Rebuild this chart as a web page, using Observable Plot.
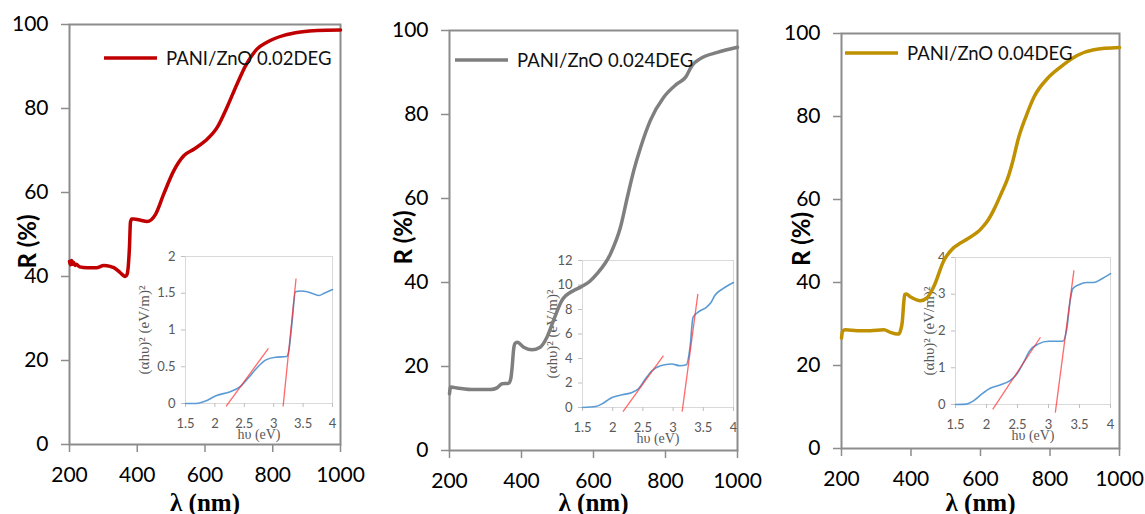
<!DOCTYPE html>
<html><head><meta charset="utf-8">
<script src="https://cdn.jsdelivr.net/npm/d3@7"></script>
<script src="https://cdn.jsdelivr.net/npm/@observablehq/plot@0.6"></script>
<style>
body{margin:0;background:#fff;}
#root{position:relative;width:1145px;height:514px;overflow:hidden;background:#fff;}
.layer{position:absolute;}
.legend{position:absolute;display:flex;align-items:center;font-family:Lato,sans-serif;font-size:18.5px;color:#111;white-space:nowrap;}
.legend svg{margin-right:9px;}
.serif{font-family:"Liberation Serif","Times New Roman",serif !important;}
</style></head><body><div id="root"></div><script>
// ---------- Data ----------
const mainXTicks = [200, 400, 600, 800, 1000];
const mainYTicks = [0, 20, 40, 60, 80, 100];
const insetXTicks = [1.5, 2, 2.5, 3, 3.5, 4];

const names = ["PANI/ZnO 0.02DEG", "PANI/ZnO 0.024DEG", "PANI/ZnO 0.04DEG"];
const colors = ["#C00000", "#7F7F7F", "#BF9000"];

// Panel 1: wavelength (nm) / reflectance (%)
const wl1 = [200,203,206,209,212,216,220,230,252,280,301,320,331,350,358,365,370,373,377,380,384,390,410,429,454,478,508,538,567,601,636,665,695,720,754,783,833,882,931,1000];
const r1  = [43.6,42.8,43.8,42.9,43.4,42.6,42.9,42.3,42.1,42.1,42.6,42.4,42.1,40.9,40.3,40,40.5,42,47,53,53.7,53.7,53.4,53.1,54.8,59.6,65.2,68.8,70.3,72.3,75.5,80.3,85.9,90.2,94.2,95.8,97.4,98.2,98.6,98.7];
// Panel 2
const wl2 = [200,203,212,221,267,314,332,346,364,370,374,378,382,388,406,429,452,471,489,512,545,564,590,610,647,675,694,712,731,758,795,832,856,874,897,944,1000];
const r2  = [13.5,15.1,15.0,14.9,14.5,14.5,14.9,15.9,16,17,19.8,24,25.5,25.8,24.6,24,24.6,27,31,35.7,38.1,38.9,40.3,42.1,46.8,53.2,60.3,66.7,72.2,78.6,84.1,87.3,88.9,91.7,93.3,94.8,96];
// Panel 3
const wl3 = [200,203,211,245,283,322,341,360,365,370,375,379,382,386,399,427,446,466,494,523,542,562,600,620,640,660,680,691,710,730,754,792,830,878,926,1000];
const r3  = [26.6,28.2,28.6,28.4,28.4,28.6,28,27.6,27.6,28.5,30.6,35,37.1,37.2,36.5,35.6,36.3,39.1,45.2,48.4,49.5,50.5,52.8,54.8,57.8,61.5,65.5,68.6,75,79.8,84.7,89.1,91.9,94.7,96.1,96.6];

// Insets: photon energy (eV) / (αhυ)²
const e1 = [1.5,1.68,1.83,2.03,2.26,2.43,2.57,2.71,2.86,3.03,3.22,3.26,3.31,3.37,3.46,3.57,3.68,3.77,3.86,4.0];
const v1 = [0,0,0.03,0.11,0.16,0.23,0.35,0.48,0.59,0.63,0.64,0.73,1.09,1.52,1.53,1.52,1.49,1.47,1.5,1.55];
const tan1 = [[2.19,-0.04,2.91,0.75],[3.16,-0.04,3.38,1.70]];
const y1Ticks = [0, 0.5, 1, 1.5, 2];

const e2 = [1.5,1.72,1.86,1.99,2.16,2.32,2.43,2.54,2.65,2.79,2.98,3.11,3.22,3.28,3.33,3.41,3.55,3.63,3.69,3.82,4.0];
const v2 = [0,0.08,0.41,0.82,1.04,1.23,1.55,2.32,3.0,3.41,3.55,3.41,3.49,4.9,7.36,7.77,8.18,8.59,9.14,9.68,10.2];
const tan2 = [[2.17,-0.33,2.84,4.23],[3.15,-0.33,3.41,9.27]];
const y2Ticks = [0, 2, 4, 6, 8, 10, 12];

const e3 = [1.5,1.68,1.79,1.92,2.06,2.22,2.38,2.49,2.60,2.70,2.84,3.0,3.14,3.23,3.29,3.35,3.39,3.49,3.62,3.73,3.84,4.0];
const v3 = [0,0.01,0.10,0.28,0.44,0.53,0.65,0.83,1.15,1.47,1.65,1.72,1.72,1.72,2.01,2.83,3.15,3.26,3.32,3.32,3.40,3.56];
const tan3 = [[2.10,-0.13,2.87,1.83],[3.11,-0.22,3.41,3.65]];
const y3Ticks = [0, 1, 2, 3, 4];

const insetYLabel = "(αhυ)² (eV/m)²";
const insetXLabel = "hυ (eV)";
const mainXLabel = "λ (nm)";
const mainYLabel = "R (%)";

// ---------- Layout ----------
const root = document.getElementById("root");
const fmt = d => String(d);
const serifFont = "'Liberation Serif', 'Times New Roman', serif";

function serifize(svg) {
  svg.querySelectorAll("text").forEach(t => {
    const s = t.textContent;
    if (s === insetYLabel || s === insetXLabel || s === mainXLabel) {
      t.classList.add("serif");
      t.setAttribute("font-family", serifFont);
    }
  });
}

function place(el, left, top, z) {
  el.classList.add("layer");
  el.style.left = left + "px"; el.style.top = top + "px"; el.style.zIndex = z;
  el.style.background = "transparent";
  root.appendChild(el);
}

function inset(cfg) {
  const data = cfg.e.map((e, i) => ({e, v: cfg.v[i]}));
  const links = cfg.tan.map(t => ({x1: t[0], y1: t[1], x2: t[2], y2: t[3]}));
  const svg = Plot.plot({
    width: cfg.w, height: 215,
    marginLeft: 60, marginRight: cfg.w - 60 - cfg.pw, marginTop: 20, marginBottom: 48,
    style: {background: "white", color: "#595959", overflow: "visible"},
    x: {domain: [1.5, 4]},
    y: {domain: cfg.ydomain},
    marks: [
      Plot.frame({stroke: "#D9D9D9", strokeWidth: 1}),
      Plot.axisX({ticks: insetXTicks, tickFormat: fmt, tickSize: 4, tickPadding: 11, stroke: "#BFBFBF", fill: "#595959", fontSize: 13, fontFamily: "Lato", label: null}),
      Plot.axisY({ticks: cfg.yticks, tickFormat: fmt, tickSize: 4, tickPadding: 6, stroke: "#BFBFBF", fill: "#595959", fontSize: 13, fontFamily: "Lato", label: null}),
      Plot.line(data, {x: "e", y: "v", stroke: "#5B9BD5", strokeWidth: 1.6, curve: "monotone-x"}),
      Plot.link(links, {x1: "x1", y1: "y1", x2: "x2", y2: "y2", stroke: "#FF2A2A", strokeOpacity: 0.7, strokeWidth: 1.3}),
      Plot.text([insetYLabel], {text: d => d, frameAnchor: "left", textAnchor: "middle", lineAnchor: "middle", dx: cfg.ylabDx, rotate: -90, fontFamily: serifFont, fontSize: 15, fill: "#595959"}),
      Plot.text([insetXLabel], {text: d => d, frameAnchor: "bottom", textAnchor: "middle", lineAnchor: "middle", dy: 31, fontFamily: serifFont, fontSize: 14, fill: "#595959"})
    ]
  });
  serifize(svg);
  place(svg, cfg.left, cfg.top, 1);
  svg.style.background = "white";
}

function panel(cfg) {
  const data = cfg.wl.map((w, i) => ({w, r: cfg.r[i]}));
  const svg = Plot.plot({
    width: 380, height: 514,
    marginLeft: cfg.ml, marginRight: cfg.mr, marginTop: cfg.mt, marginBottom: cfg.mb,
    style: {background: "transparent", color: "#000", overflow: "visible"},
    x: {domain: [200, 1000]},
    y: {domain: [0, 100]},
    marks: [
      Plot.frame({stroke: "#8C8C8C", strokeWidth: 2}),
      Plot.axisX({ticks: mainXTicks, tickFormat: fmt, tickSize: 8, tickPadding: 15, stroke: "#8C8C8C", strokeWidth: 1.5, fill: "#000", fontSize: 21, fontFamily: "Lato", label: null}),
      Plot.axisY({ticks: mainYTicks, tickFormat: fmt, tickSize: 8, tickPadding: 13, stroke: "#8C8C8C", strokeWidth: 1.5, fill: "#000", fontSize: 21, fontFamily: "Lato", label: null}),
      Plot.line(data, {x: "w", y: "r", stroke: cfg.color, strokeWidth: 3.5, curve: "monotone-x"}),
      Plot.text([mainYLabel], {text: d => d, frameAnchor: "left", textAnchor: "middle", lineAnchor: "middle", dx: cfg.rdx, dy: cfg.rdy, rotate: -90, fontFamily: "Lato", fontWeight: "bold", fontSize: 24, fill: "#000"}),
      Plot.text([mainXLabel], {text: d => d, frameAnchor: "bottom", textAnchor: "middle", lineAnchor: "middle", dy: cfg.ldy, fontFamily: serifFont, fontWeight: "bold", fontSize: 25, fill: "#000"})
    ]
  });
  serifize(svg);
  place(svg, cfg.left, 0, 2);
  const lg = document.createElement("div");
  lg.className = "legend";
  lg.style.left = cfg.lgx + "px"; lg.style.top = (cfg.lgy - 12) + "px"; lg.style.height = "24px"; lg.style.zIndex = 3;
  lg.innerHTML = `<svg width="53" height="6"><line x1="0" y1="3" x2="53" y2="3" stroke="${cfg.color}" stroke-width="3.5"/></svg><span>${cfg.name}</span>`;
  root.appendChild(lg);
}

inset({e: e1, v: v1, tan: tan1, ydomain: [0, 2], yticks: y1Ticks, left: 125, top: 236, w: 220, pw: 147, ylabDx: -41});
inset({e: e2, v: v2, tan: tan2, ydomain: [0, 12], yticks: y2Ticks, left: 522, top: 240, w: 225, pw: 151, ylabDx: -30});
inset({e: e3, v: v3, tan: tan3, ydomain: [0, 4], yticks: y3Ticks, left: 895, top: 237, w: 230, pw: 155, ylabDx: -26});

panel({wl: wl1, r: r1, color: colors[0], name: names[0], left: 0,   ml: 69, mr: 40, mt: 24, mb: 70, rdx: -41, rdy: 7,  ldy: 58, lgx: 104, lgy: 58});
panel({wl: wl2, r: r2, color: colors[1], name: names[1], left: 380, ml: 69, mr: 23, mt: 30, mb: 64, rdx: -45, rdy: -3, ldy: 52, lgx: 455, lgy: 60});
panel({wl: wl3, r: r3, color: colors[2], name: names[2], left: 765, ml: 76, mr: 26, mt: 33, mb: 66, rdx: -39, rdy: -2, ldy: 54, lgx: 845, lgy: 53});
</script></body></html>
